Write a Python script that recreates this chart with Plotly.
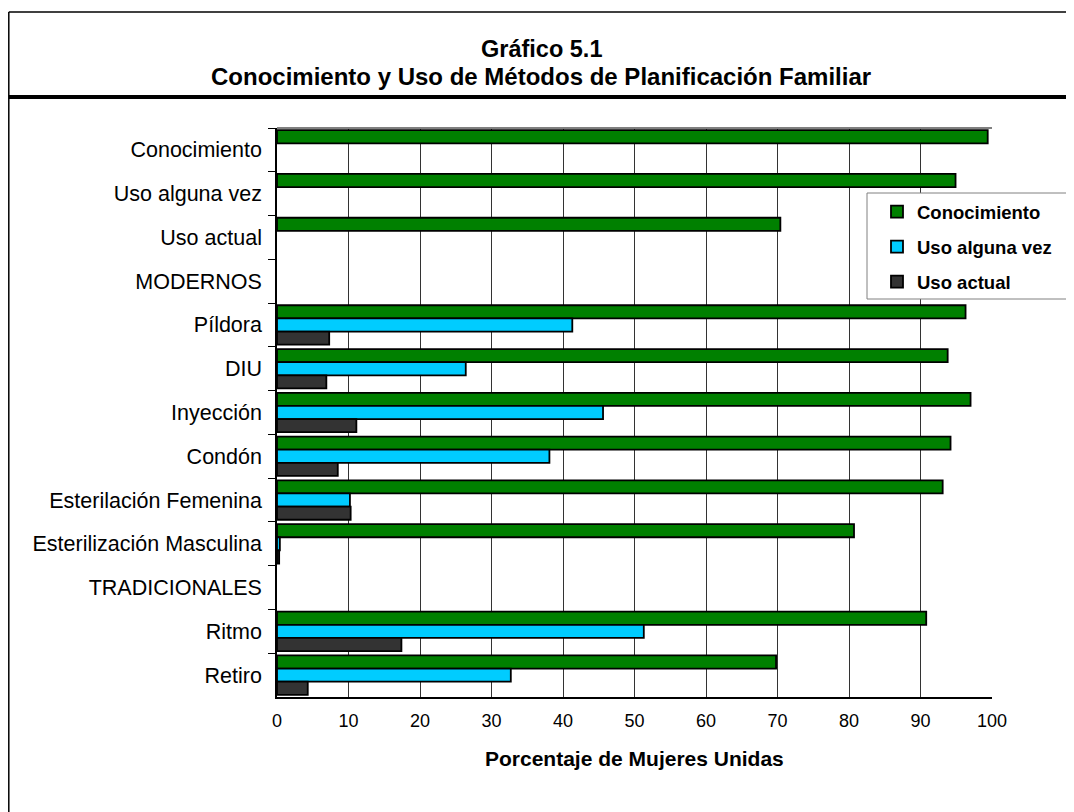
import plotly.graph_objects as go

categories = ["Conocimiento", "Uso alguna vez", "Uso actual", "MODERNOS", "Píldora", "DIU",
              "Inyección", "Condón", "Esterilación Femenina", "Esterilización Masculina",
              "TRADICIONALES", "Ritmo", "Retiro"]
conocimiento = [99.4, 94.9, 70.4, None, 96.3, 93.8, 97.0, 94.2, 93.1, 80.7, None, 90.8, 69.8]
uso_alguna_vez = [None, None, None, None, 41.3, 26.4, 45.6, 38.1, 10.2, 0.4, None, 51.3, 32.7]
uso_actual = [None, None, None, None, 7.3, 6.9, 11.1, 8.5, 10.3, 0.3, None, 17.4, 4.3]
x_ticks = list(range(0, 101, 10))

series = [("Conocimiento", conocimiento, "#008000"),
          ("Uso alguna vez", uso_alguna_vez, "#00CCFF"),
          ("Uso actual", uso_actual, "#333333")]

W, H = 1074, 812
OFF = 8  # page body margin
L, R, T, B = 269, 90, 120, 123
PW, PH = W - L - R, H - T - B
SX0, SY1 = L + OFF, H - B + OFF  # screen coords of plot left / bottom


def px(x):
    return (x - SX0) / PW


def py(y):
    return (SY1 - y) / PH


FONT = "Liberation Sans, Arial, sans-serif"

fig = go.Figure()
for i, (name, vals, col) in enumerate(series):
    fig.add_trace(go.Bar(
        y=categories, x=vals, name=name, orientation="h",
        marker=dict(color=col, line=dict(color="#000000", width=1.8)),
        legendgroup=f"g{i}",
    ))

shapes = [
    # outer frame
    dict(type="line", xref="paper", yref="paper", x0=px(8.8), x1=px(1100), y0=py(12), y1=py(12),
         line=dict(color="#000000", width=1.5)),
    dict(type="line", xref="paper", yref="paper", x0=px(8.8), x1=px(8.8), y0=py(12), y1=py(840),
         line=dict(color="#000000", width=1.5)),
    dict(type="line", xref="paper", yref="paper", x0=px(8.8), x1=px(1100), y0=py(97), y1=py(97),
         line=dict(color="#000000", width=4)),
    # plot top border
    dict(type="line", xref="paper", yref="paper", x0=0, x1=1, y0=1, y1=1,
         line=dict(color="#808080", width=2)),
    # legend box
    dict(type="rect", xref="paper", yref="paper", x0=px(867), x1=px(1110), y0=py(193), y1=py(299),
         line=dict(color="#808080", width=1), fillcolor="#FFFFFF", layer="above"),
]

annotations = [
    dict(text="<b>Gráfico 5.1</b>", xref="paper", yref="paper", x=px(541), y=py(49),
         showarrow=False, font=dict(family=FONT, size=23.5, color="#000000"), xanchor="center", yanchor="middle"),
    dict(text="<b>Conocimiento y Uso de Métodos de Planificación Familiar</b>", xref="paper", yref="paper",
         x=px(541), y=py(76), showarrow=False, font=dict(family=FONT, size=24, color="#000000"),
         xanchor="center", yanchor="middle"),
    dict(text="<b>Porcentaje de Mujeres Unidas</b>", xref="paper", yref="paper", x=px(634), y=py(758),
         showarrow=False, font=dict(family=FONT, size=21, color="#000000"), xanchor="center", yanchor="middle"),
]

fig.update_layout(
    width=W, height=H,
    margin=dict(l=L, r=R, t=T, b=B, pad=0),
    paper_bgcolor="#FFFFFF", plot_bgcolor="#FFFFFF",
    barmode="group", bargap=0.1, bargroupgap=0.0,
    shapes=shapes, annotations=annotations,
    font=dict(family=FONT, color="#000000"),
    legend=dict(x=px(877), y=py(193), xanchor="left", yanchor="top",
                bgcolor="rgba(0,0,0,0)", borderwidth=0, traceorder="grouped",
                tracegroupgap=8, font=dict(family=FONT, size=18.5, color="#000000", weight="bold")),
    showlegend=True,
)
fig.update_xaxes(range=[0, 100], tickvals=x_ticks, ticktext=[str(v) for v in x_ticks],
                 showgrid=True, gridcolor="#333333", gridwidth=1, zeroline=False,
                 showline=True, linecolor="#000000", linewidth=1.5,
                 ticks="outside", ticklen=7, tickcolor="rgba(0,0,0,0)",
                 tickfont=dict(family=FONT, size=18, color="#000000"), fixedrange=True)
fig.update_yaxes(type="category", categoryorder="array", categoryarray=categories,
                 autorange="reversed", showgrid=False, zeroline=False,
                 showline=True, linecolor="#000000", linewidth=1.5,
                 ticks="outside", tickson="boundaries", ticklen=7, tickcolor="#000000", tickwidth=1.2,
                 ticklabelstandoff=9,
                 tickfont=dict(family=FONT, size=21.5, color="#000000"), fixedrange=True)

fig.write_html("out.html")
